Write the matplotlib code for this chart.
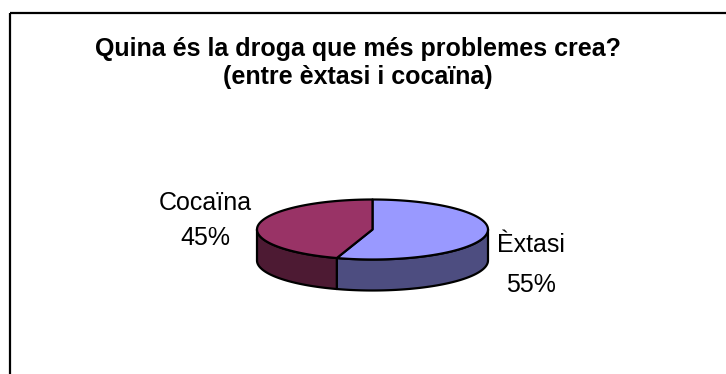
import numpy as np
import matplotlib
matplotlib.use("Agg")
import matplotlib.pyplot as plt
from matplotlib.patches import Polygon
from matplotlib.lines import Line2D

# ---- data ----
categories = ["Èxtasi", "Cocaïna"]
values = [55, 45]
top_colors = ["#9999FF", "#993366"]
side_colors = ["#4D4D80", "#4D1A33"]
title_lines = ["Quina és la droga que més problemes crea?", "(entre èxtasi i cocaïna)"]

plt.rcParams['font.family'] = ['Liberation Sans', 'DejaVu Sans']

W, H = 726, 374
fig = plt.figure(figsize=(W / 100, H / 100), dpi=100)
ax = fig.add_axes([0, 0, 1, 1])
ax.set_xlim(0, W)
ax.set_ylim(H, 0)
ax.axis('off')

# frame (left and top visible)
ax.add_line(Line2D([10, 10], [H + 5, 12.5], color='black', lw=1.6, solid_capstyle='butt'))
ax.add_line(Line2D([10, W + 5], [12.5, 12.5], color='black', lw=1.6, solid_capstyle='butt'))

# pie geometry (screen pixels)
cx, cy, rx, ry, depth = 372.5, 229.5, 115.5, 30.0, 31.0


def pt(theta_deg, dy=0.0):
    t = np.radians(theta_deg)
    return cx + rx * np.cos(t), cy - ry * np.sin(t) + dy


total = float(sum(values))
# slices start at 12 o'clock and go clockwise
bounds = []
start = 90.0
for v in values:
    end = start - 360.0 * v / total
    bounds.append((end, start))  # ccw from end to start
    start = end

# side faces: visible portion where angle in [180, 360] (mod 360)
for (a, b), sc in zip(bounds, side_colors):
    segs = []
    for shift in (-360, 0, 360):
        lo, hi = a + shift, b + shift
        s_lo, s_hi = max(lo, -180), min(hi, 0)
        if s_hi > s_lo:
            segs.append((s_lo, s_hi))
    for s_lo, s_hi in segs:
        th = np.linspace(s_lo, s_hi, 80)
        top = [pt(t) for t in th]
        bot = [pt(t, depth) for t in th[::-1]]
        poly = Polygon(top + bot, closed=True, facecolor=sc, edgecolor='black',
                       lw=1.6, joinstyle='round')
        ax.add_patch(poly)

# top faces
for (a, b), tc in zip(bounds, top_colors):
    th = np.linspace(a, b, 150)
    pts = [(cx, cy)] + [pt(t) for t in th]
    ax.add_patch(Polygon(pts, closed=True, facecolor=tc, edgecolor='black',
                         lw=1.6, joinstyle='round'))

# title
ax.text(358, 55.5, title_lines[0], ha='center', va='baseline',
        fontsize=18, fontweight='bold')
ax.text(358, 84, title_lines[1], ha='center', va='baseline',
        fontsize=18, fontweight='bold')

# labels
label_pos = [(531, 252, 292), (205, 210, 245)]
for cat, v, (lx, by1, by2) in zip(categories, values, label_pos):
    pct = f"{round(100 * v / total):d}%"
    ax.text(lx, by1, cat, ha='center', va='baseline', fontsize=18)
    ax.text(lx, by2, pct, ha='center', va='baseline', fontsize=18)

fig.savefig("out.png", dpi=100)
